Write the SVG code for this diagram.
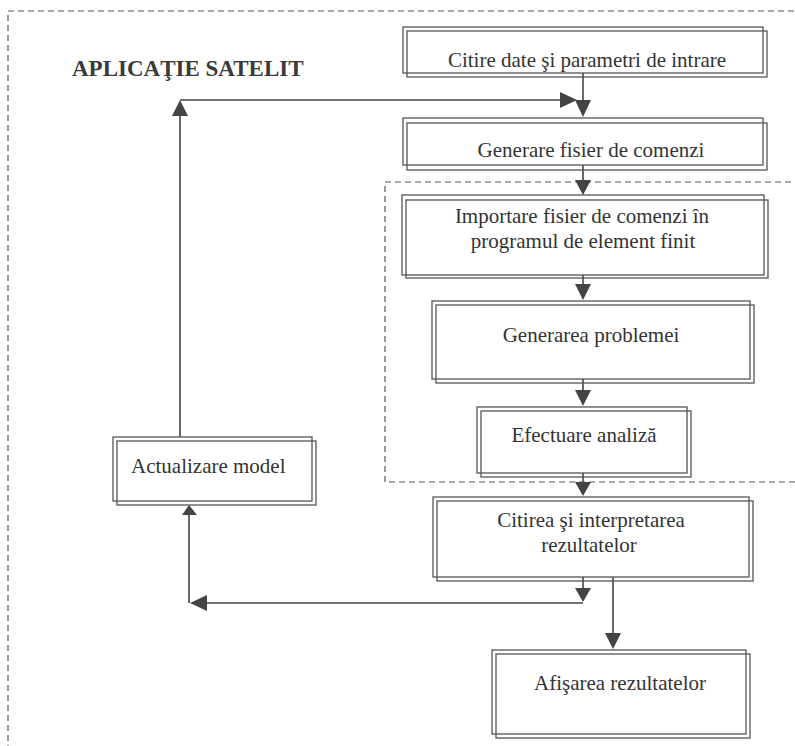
<svg xmlns="http://www.w3.org/2000/svg" width="795" height="746" viewBox="0 0 795 746">
<style>
.bg{fill:#ffffff}
.frame{fill:none;stroke:#555;stroke-width:1.3}
.dash{fill:none;stroke:#555;stroke-width:1.2;stroke-dasharray:6 4}
.t{font-family:"Liberation Serif","Times New Roman",serif;font-size:21px;fill:#333}
.c{text-anchor:middle}
.title{font-family:"Liberation Serif","Times New Roman",serif;font-size:23px;font-weight:bold;fill:#3a3a3a}
.ln{fill:none;stroke:#444;stroke-width:1.6}
.ah{fill:#444;stroke:none}
</style>
<rect class="bg" x="0" y="0" width="795" height="746"/>
<rect class="dash" x="8" y="11" width="800" height="760"/>
<rect class="dash" x="385" y="182" width="420" height="300"/>
<text class="title" x="72" y="76">APLICAŢIE SATELIT</text>

<g id="connectors">
  <path class="ln" d="M583 73 V101"/>
  <polygon class="ah" points="575,100 591,100 583,117"/>
  <path class="ln" d="M180 437 V112 M180 100 H562"/>
  <polygon class="ah" points="172,116 188,116 180,100"/>
  <polygon class="ah" points="560,92 560,108 577,100"/>
  <path class="ln" d="M583 165 V181"/>
  <polygon class="ah" points="575,180 591,180 583,195"/>
  <path class="ln" d="M583 275 V285"/>
  <polygon class="ah" points="575,284 591,284 583,300"/>
  <path class="ln" d="M583 379 V391"/>
  <polygon class="ah" points="575,390 591,390 583,406"/>
  <path class="ln" d="M583 473 V483"/>
  <polygon class="ah" points="575,482 591,482 583,496"/>
  <path class="ln" d="M583 577 V589 M583 603 H205 M189 603 V514"/>
  <polygon class="ah" points="575,588 591,588 583,602"/>
  <polygon class="ah" points="207,595 207,611 190,603"/>
  <polygon class="ah" points="182,515 197,515 189,505"/>
  <path class="ln" d="M613 577 V635"/>
  <polygon class="ah" points="605,633 621,633 613,649"/>
</g>

<g id="n1">
  <rect class="frame" x="403" y="27" width="360" height="46"/>
  <rect class="frame" x="407" y="31" width="360" height="46"/>
  <text class="t c" x="587" y="67">Citire date şi parametri de intrare</text>
</g>
<g id="n2">
  <rect class="frame" x="403" y="118" width="360" height="47"/>
  <rect class="frame" x="407" y="123" width="360" height="47"/>
  <text class="t c" x="591" y="157">Generare fisier de comenzi</text>
</g>
<g id="n3">
  <rect class="frame" x="402" y="195" width="362" height="80"/>
  <rect class="frame" x="406" y="200" width="362" height="78"/>
  <text class="t c" x="582" y="223">Importare fisier de comenzi în</text>
  <text class="t c" x="583" y="248">programul de element finit</text>
</g>
<g id="n4">
  <rect class="frame" x="432" y="301" width="318" height="78"/>
  <rect class="frame" x="436" y="305" width="318" height="78"/>
  <text class="t c" x="591" y="342">Generarea problemei</text>
</g>
<g id="n5">
  <rect class="frame" x="477" y="407" width="210" height="66"/>
  <rect class="frame" x="481" y="411" width="210" height="66"/>
  <text class="t c" x="584" y="442">Efectuare analiză</text>
</g>
<g id="n6">
  <rect class="frame" x="433" y="497" width="316" height="80"/>
  <rect class="frame" x="437" y="501" width="316" height="80"/>
  <text class="t c" x="591" y="527">Citirea şi interpretarea</text>
  <text class="t c" x="589" y="552">rezultatelor</text>
</g>
<g id="n7">
  <rect class="frame" x="492" y="650" width="254" height="84"/>
  <rect class="frame" x="496" y="654" width="254" height="84"/>
  <text class="t c" x="620" y="690">Afişarea rezultatelor</text>
</g>
<g id="n8">
  <rect class="frame" x="113" y="437" width="199" height="64"/>
  <rect class="frame" x="117" y="441" width="199" height="64"/>
  <text class="t" x="131" y="473">Actualizare model</text>
</g>
</svg>
